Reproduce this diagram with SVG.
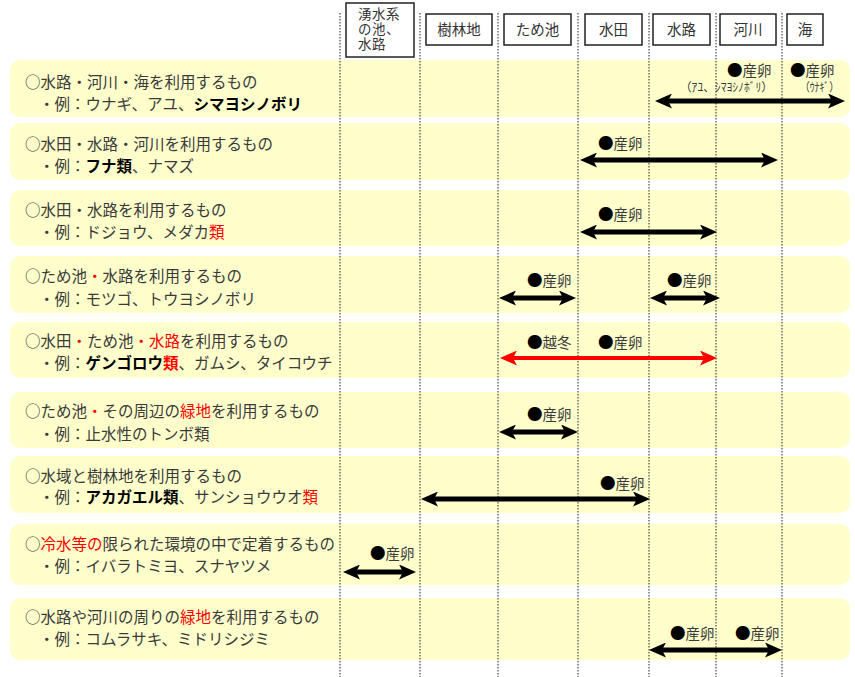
<svg xmlns="http://www.w3.org/2000/svg" width="855" height="677" viewBox="0 0 855 677">
<style>
.row{fill:#FFFFCC;}
.grid{stroke:#222;stroke-width:1;stroke-dasharray:1.5 1.5;fill:none;}
.hbox{fill:#fff;stroke:#222;stroke-width:1.5;}
.ht{font-family:"Noto Sans CJK JP","Noto Sans",sans-serif;font-size:14.5px;fill:#333;}
.t{font-family:"Noto Sans CJK JP","Noto Sans",sans-serif;font-size:15.5px;fill:#3a3a3a;}
.b{font-weight:bold;fill:#000;}
.r{fill:#ff0000;}
.lb{font-family:"Noto Sans CJK JP","Noto Sans",sans-serif;font-size:14.5px;fill:#3a3a3a;}
.dot{fill:#000;font-size:15.5px;}
.sm{font-family:"Noto Sans CJK JP","Noto Sans",sans-serif;font-size:12px;fill:#3a3a3a;}
.arr{stroke:#000;stroke-width:5;fill:none;marker-start:url(#ah);marker-end:url(#ah);}
.arrR{stroke:#ff0000;stroke-width:4;fill:none;marker-start:url(#ahR);marker-end:url(#ahR);}
</style>
<defs>
<marker id="ah" markerUnits="userSpaceOnUse" markerWidth="17" markerHeight="15" viewBox="0 0 17 15" refX="9" refY="7.5" orient="auto-start-reverse">
<path d="M0,0 L17,7.5 L0,15 L4,7.5 Z" fill="#000"/>
</marker>
<marker id="ahR" markerUnits="userSpaceOnUse" markerWidth="17" markerHeight="15" viewBox="0 0 17 15" refX="9" refY="7.5" orient="auto-start-reverse">
<path d="M0,0 L17,7.5 L0,15 L4,7.5 Z" fill="#ff0000"/>
</marker>
</defs>
<rect width="855" height="677" fill="#fff"/>
<g id="rows">
<rect class="row" x="10" y="60" width="840" height="57" rx="10"/>
<rect class="row" x="10" y="123" width="840" height="57" rx="10"/>
<rect class="row" x="10" y="190" width="840" height="56" rx="10"/>
<rect class="row" x="10" y="256" width="840" height="57" rx="10"/>
<rect class="row" x="10" y="322" width="840" height="56" rx="10"/>
<rect class="row" x="10" y="392" width="840" height="56" rx="10"/>
<rect class="row" x="10" y="456" width="840" height="57" rx="10"/>
<rect class="row" x="10" y="524" width="840" height="61" rx="10"/>
<rect class="row" x="10" y="598" width="840" height="62" rx="10"/>
</g>
<g id="gridlines">
<line class="grid" x1="340" y1="13" x2="340" y2="677"/>
<line class="grid" x1="420" y1="13" x2="420" y2="677"/>
<line class="grid" x1="498" y1="13" x2="498" y2="677"/>
<line class="grid" x1="578" y1="13" x2="578" y2="677"/>
<line class="grid" x1="649" y1="13" x2="649" y2="677"/>
<line class="grid" x1="716" y1="13" x2="716" y2="677"/>
<line class="grid" x1="782" y1="13" x2="782" y2="677"/>
</g>
<g id="hdr-spring">
<rect class="hbox" x="346" y="3" width="68" height="54"/>
<text class="ht" x="358" y="19" style="font-size:13.5px;letter-spacing:0.5px">湧水系<tspan x="358" dy="15">の池、</tspan><tspan x="358" dy="15">水路</tspan></text>
</g>
<g id="hdr-forest"><rect class="hbox" x="426" y="14" width="66" height="31"/><text class="ht" x="459" y="35" text-anchor="middle">樹林地</text></g>
<g id="hdr-pond"><rect class="hbox" x="504" y="14" width="67" height="31"/><text class="ht" x="537.5" y="35" text-anchor="middle">ため池</text></g>
<g id="hdr-paddy"><rect class="hbox" x="585" y="14" width="57" height="31"/><text class="ht" x="613.5" y="35" text-anchor="middle">水田</text></g>
<g id="hdr-channel"><rect class="hbox" x="653" y="14" width="57" height="31"/><text class="ht" x="681.5" y="35" text-anchor="middle">水路</text></g>
<g id="hdr-river"><rect class="hbox" x="720" y="14" width="56" height="31"/><text class="ht" x="748" y="35" text-anchor="middle">河川</text></g>
<g id="hdr-sea"><rect class="hbox" x="787" y="14" width="36" height="31"/><text class="ht" x="805" y="35" text-anchor="middle">海</text></g>

<g id="row1">
<text class="t" x="25" y="88">○水路・河川・海を利用するもの</text>
<text class="t" x="39" y="110">・例：ウナギ、アユ、<tspan class="b">シマヨシノボリ</tspan></text>
<text class="lb" x="727" y="76"><tspan class="dot">●</tspan>産卵</text>
<text class="sm" x="680" y="92" textLength="93" lengthAdjust="spacingAndGlyphs">（ｱﾕ、ｼﾏﾖｼﾉﾎﾞﾘ）</text>
<text class="lb" x="790" y="76"><tspan class="dot">●</tspan>産卵</text>
<text class="sm" x="800" y="92" textLength="39" lengthAdjust="spacingAndGlyphs">（ｳﾅｷﾞ）</text>
</g>
<g id="row2">
<text class="t" x="25" y="150">○水田・水路・河川を利用するもの</text>
<text class="t" x="39" y="172">・例：<tspan class="b">フナ類</tspan>、ナマズ</text>
<text class="lb" x="598" y="149"><tspan class="dot">●</tspan>産卵</text>
</g>
<g id="row3">
<text class="t" x="25" y="216">○水田・水路を利用するもの</text>
<text class="t" x="39" y="238">・例：ドジョウ、メダカ<tspan class="r">類</tspan></text>
<text class="lb" x="598" y="220"><tspan class="dot">●</tspan>産卵</text>
</g>
<g id="row4">
<text class="t" x="25" y="282">○ため池<tspan class="r">・</tspan>水路を利用するもの</text>
<text class="t" x="39" y="305">・例：モツゴ、トウヨシノボリ</text>
<text class="lb" x="527" y="286"><tspan class="dot">●</tspan>産卵</text>
<text class="lb" x="667" y="286"><tspan class="dot">●</tspan>産卵</text>
</g>
<g id="row5">
<text class="t" x="25" y="347">○水田<tspan class="r">・</tspan>ため池<tspan class="r">・水路</tspan>を利用するもの</text>
<text class="t" x="39" y="369">・例：<tspan class="b">ゲンゴロウ</tspan><tspan class="b r">類</tspan>、ガムシ、タイコウチ</text>
<text class="lb" x="527" y="348"><tspan class="dot">●</tspan>越冬</text>
<text class="lb" x="598" y="348"><tspan class="dot">●</tspan>産卵</text>
</g>
<g id="row6">
<text class="t" x="25" y="417">○ため池<tspan class="r">・</tspan>その周辺の<tspan class="r">緑地</tspan>を利用するもの</text>
<text class="t" x="39" y="440">・例：止水性のトンボ類</text>
<text class="lb" x="527" y="420"><tspan class="dot">●</tspan>産卵</text>
</g>
<g id="row7">
<text class="t" x="25" y="482">○水域と樹林地を利用するもの</text>
<text class="t" x="39" y="503">・例：<tspan class="b">アカガエル類</tspan>、サンショウウオ<tspan class="r">類</tspan></text>
<text class="lb" x="600" y="489"><tspan class="dot">●</tspan>産卵</text>
</g>
<g id="row8">
<text class="t" x="25" y="550">○<tspan class="r">冷水等の</tspan>限られた環境の中で定着するもの</text>
<text class="t" x="39" y="572">・例：イバラトミヨ、スナヤツメ</text>
<text class="lb" x="370" y="559"><tspan class="dot">●</tspan>産卵</text>
</g>
<g id="row9">
<text class="t" x="25" y="623">○水路や河川の周りの<tspan class="r">緑地</tspan>を利用するもの</text>
<text class="t" x="39" y="645">・例：コムラサキ、ミドリシジミ</text>
<text class="lb" x="670" y="639"><tspan class="dot">●</tspan>産卵</text>
<text class="lb" x="735" y="639"><tspan class="dot">●</tspan>産卵</text>
</g>

<g id="connectors">
<line class="arr" x1="663" y1="101" x2="837" y2="101"/>
<line class="arr" x1="588" y1="160" x2="770" y2="160"/>
<line class="arr" x1="588" y1="232" x2="709" y2="232"/>
<line class="arr" x1="507" y1="298" x2="568" y2="298"/>
<line class="arr" x1="658" y1="298" x2="712" y2="298"/>
<line class="arrR" x1="508" y1="358" x2="709" y2="358"/>
<line class="arr" x1="507" y1="432" x2="570" y2="432"/>
<line class="arr" x1="429" y1="499" x2="642" y2="499"/>
<line class="arr" x1="351" y1="572" x2="408" y2="572"/>
<line class="arr" x1="657" y1="650" x2="774" y2="650"/>
</g>
</svg>
